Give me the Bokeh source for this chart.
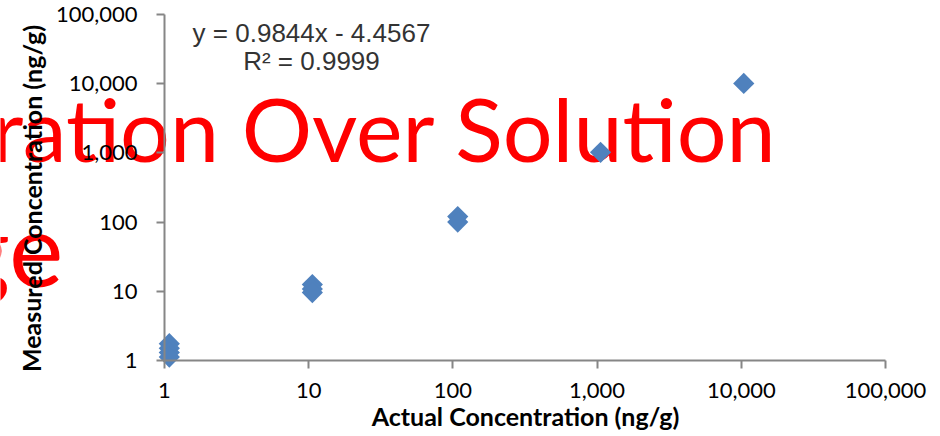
from bokeh.plotting import figure
from bokeh.models import FixedTicker, NumeralTickFormatter, Label
from bokeh.embed import file_html
from bokeh.resources import INLINE

# ---- data ----
actual = [1.08, 1.08, 1.08, 1.08, 10.6, 10.6, 10.6, 108, 108, 1057, 10400]
measured = [1.75, 1.5, 1.3, 1.12, 12.5, 10.8, 9.6, 120, 100, 1020, 10100]
ticks = [1, 10, 100, 1000, 10000, 100000]

title_line1 = "Calibration Over Solution"
title_line2 = "Range"
eq_line1 = "y = 0.9844x - 4.4567"
eq_line2 = "R² = 0.9999"
x_label = "Actual Concentration (ng/g)"
y_label = "Measured Concentration (ng/g)"

# The plot area covers the whole page so that the oversized title can run
# across the margins; the axes are pinned at 1 and bounded to 1 .. 100,000.
x_start = 10 ** (-164 / 144.2)
x_end = 10 ** (5 + 55 / 144.2)
y_start = 10 ** (-76 / 69.2)
y_end = 10 ** (5 + 14 / 69.2)

# ---- figure ----
p = figure(width=940, height=436, x_axis_type="log", y_axis_type="log",
           x_range=(x_start, x_end), y_range=(y_start, y_end),
           output_backend="svg", toolbar_location=None,
           min_border=0, min_border_left=0, min_border_right=0,
           min_border_top=0, min_border_bottom=0)
p.outline_line_color = None
p.xgrid.visible = False
p.ygrid.visible = False
p.background_fill_color = "white"

for ax in (p.xaxis[0], p.yaxis[0]):
    ax.ticker = FixedTicker(ticks=ticks, minor_ticks=[])
    ax.formatter = NumeralTickFormatter(format="0,0")
    ax.bounds = (1, 100000)
    ax.fixed_location = 1
    ax.axis_line_color = "#868686"
    ax.axis_line_width = 2
    ax.major_tick_line_color = "#868686"
    ax.major_tick_line_width = 2
    ax.major_tick_out = 8
    ax.major_tick_in = 0
    ax.minor_tick_out = 0
    ax.minor_tick_in = 0
    ax.major_label_text_font = "Lato"
    ax.major_label_text_font_size = "22px"
    ax.major_label_text_color = "black"

p.xaxis.major_label_standoff = 14
p.yaxis.major_label_standoff = 19

# ---- points ----
p.scatter(actual, measured, marker="square", size=15, angle=0.785398,
          fill_color="#4F81BD", line_color=None)

# ---- title (runs past the left edge, as in the original; drawn beneath) ----
p.add_layout(Label(x=777, y=309, x_units="screen", y_units="screen",
                   text=title_line1, text_align="right", text_baseline="alphabetic",
                   text_font="Lato", text_font_size="88px", text_color="#FF0000",
                   level="underlay"))
p.add_layout(Label(x=63, y=190, x_units="screen", y_units="screen",
                   text=title_line2, text_align="right", text_baseline="alphabetic",
                   text_font="Lato", text_font_size="103px", text_color="#FF0000",
                   level="underlay"))

# ---- axis titles ----
p.add_layout(Label(x=525, y=21, x_units="screen", y_units="screen",
                   text=x_label, text_align="center", text_baseline="alphabetic",
                   text_font="Lato", text_font_style="bold", text_font_size="25px",
                   text_color="black"))
p.add_layout(Label(x=31, y=238, x_units="screen", y_units="screen",
                   text=y_label, text_align="center", text_baseline="alphabetic",
                   angle=1.5707963, text_font="Lato", text_font_style="bold",
                   text_font_size="25px", text_color="black"))

# ---- trendline equation ----
p.add_layout(Label(x=311, y=404, x_units="screen", y_units="screen",
                   text=eq_line1, text_align="center", text_baseline="alphabetic",
                   text_font="Liberation Sans", text_font_size="26px", text_color="#333333"))
p.add_layout(Label(x=311, y=376, x_units="screen", y_units="screen",
                   text=eq_line2, text_align="center", text_baseline="alphabetic",
                   text_font="Liberation Sans", text_font_size="26px", text_color="#333333"))

open("out.html", "w").write(file_html(p, INLINE))
